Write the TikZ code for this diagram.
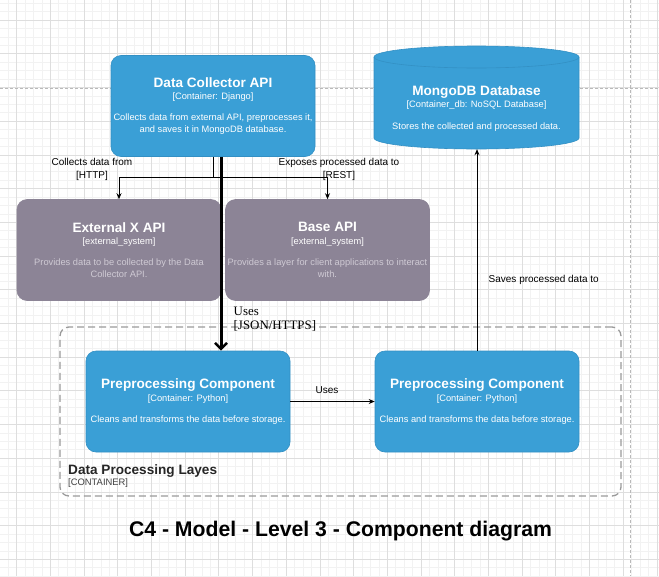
\documentclass[tikz,border=0pt]{standalone}
\usepackage{fontspec}
\setmainfont{Liberation Sans}
\newfontfamily\serifface{Liberation Serif}
\usetikzlibrary{arrows.meta}
\definecolor{c4blue}{HTML}{3A9FD6}
\definecolor{c4blueline}{HTML}{3390C4}
\definecolor{c4ext}{HTML}{8C8496}
\definecolor{c4extdesc}{HTML}{CFCAD4}
\definecolor{gridminor}{HTML}{F2F2F2}
\definecolor{gridmajor}{HTML}{DEDEDE}
\definecolor{bnd}{HTML}{9A9A9A}
\newcommand{\bttl}[1]{{\fontsize{13.6}{12.5}\selectfont\bfseries #1}}
\newcommand{\bsub}[1]{{\fontsize{9.3}{12.5}\selectfont #1}}
\tikzset{
  cbox/.style={rectangle, rounded corners=10pt, fill=c4blue, draw=c4blueline, line width=0.6pt,
    minimum width=204pt, minimum height=101pt, text=white, align=center, inner sep=0pt,
    font=\fontsize{9.3}{12.3}\selectfont},
  ebox/.style={cbox, fill=c4ext, draw=c4ext},
  thinarr/.style={draw=black, line width=0.9pt, -{Stealth[length=6pt,width=5pt]}},
  thickarr/.style={draw=black, line width=3pt, -{Straight Barb[length=6pt,width=12pt,line width=2.5pt]}},
  lbl/.style={font=\fontsize{10}{12.5}\selectfont, align=center, inner sep=0pt},
}
\begin{document}
\begin{tikzpicture}[x=1pt,y=-1pt]
\useasboundingbox (0,0) rectangle (659,576);
\fill[white] (0,0) rectangle (659,576);
% grid
\foreach \i in {-2,...,80} {
  \draw[gridminor, line width=0.5pt] ({16.5+\i*8.425},0) -- ({16.5+\i*8.425},576);
  \draw[gridminor, line width=0.5pt] (0,{20+\i*8.425}) -- (659,{20+\i*8.425});
}
\foreach \i in {-1,...,20} {
  \draw[gridmajor, line width=0.6pt] ({16.5+\i*33.7},0) -- ({16.5+\i*33.7},576);
  \draw[gridmajor, line width=0.6pt] (0,{20+\i*33.7}) -- (659,{20+\i*33.7});
}
\draw[gray!55, line width=0.5pt, dash pattern=on 3pt off 2pt] (0,88) -- (659,88);
\draw[gray!55, line width=0.5pt, dash pattern=on 3pt off 2pt] (630,0) -- (630,576);

% boundary
\node[draw=bnd, line width=1.3pt, dash pattern=on 7pt off 4pt, rounded corners=9pt,
  minimum width=561pt, minimum height=169pt, inner sep=0pt] (layer) at (340.5,411.5) {};
\node[anchor=base west, inner sep=0pt, font=\fontsize{13.6}{15}\selectfont\bfseries, text=black!85]
  (layername) at (68,474) {Data Processing Layes};
\node[anchor=base west, inner sep=0pt, font=\fontsize{9.4}{11}\selectfont, text=black!75]
  (layertype) at (68,485) {[CONTAINER]};

% boxes
\node[cbox] (dc) at (213,106)
  {\bttl{Data Collector API}\\\bsub{[Container: Django]}\\[8.5pt]Collects data from external API, preprocesses it,\\and saves it in MongoDB database.};
\node[ebox] (ext) at (119,250)
  {\bttl{External X API}\\\bsub{[external\_system]}\\[8.5pt]\textcolor{c4extdesc}{Provides data to be collected by the Data}\\\textcolor{c4extdesc}{Collector API.}};
\node[ebox] (base) at (327.5,250)
  {\bttl{Base API}\\\bsub{[external\_system]}\\[8.5pt]\textcolor{c4extdesc}{Provides a layer for client applications to interact}\\\textcolor{c4extdesc}{with.}};
\node[cbox] (pc1) at (188,401.5)
  {\bttl{Preprocessing Component}\\\bsub{[Container: Python]}\\[8.5pt]Cleans and transforms the data before storage.};
\node[cbox] (pc2) at (477,401.5)
  {\bttl{Preprocessing Component}\\\bsub{[Container: Python]}\\[8.5pt]Cleans and transforms the data before storage.};

% database cylinder
\node[inner sep=0pt, minimum width=205pt, minimum height=103pt] (db) at (476.5,97.5) {};
\path[fill=c4blue, draw=c4blueline, line width=0.6pt] (374,57) -- (374,138)
  arc[start angle=180, end angle=360, x radius=102.5pt, y radius=11pt] -- (579,57)
  arc[start angle=0, end angle=180, x radius=102.5pt, y radius=11pt] -- cycle;
\draw[c4blueline, line width=0.6pt] (374,57) arc[start angle=180, end angle=360, x radius=102.5pt, y radius=11pt];
\node[inner sep=0pt, text=white, align=center, font=\fontsize{9.3}{12.5}\selectfont] (dbtext) at (476.5,108.5)
  {\bttl{MongoDB Database}\\\bsub{[Container\_db: NoSQL Database]}\\[9pt]Stores the collected and processed data.};

% connectors
\draw[thinarr] (dc.south) -- ++(0,21) -| (ext.north);
\draw[thinarr] (dc.south) -- ++(0,21) -| (base.north);
\draw[thickarr] ([xshift=8pt]dc.south) -- ([xshift=8pt]dc.south |- pc1.north);
\draw[thinarr] (pc1.east) -- (pc2.west);
\draw[thinarr] (pc2.north) -- (pc2.north |- db.south);

% labels
\node[lbl] (l1) at (92,169.5) {Collects data from\\{}[HTTP]};
\node[lbl] (l2) at (339,169.5) {Exposes processed data to\\{}[REST]};
\node[lbl] (l3) at (327,390.5) {Uses};
\node[lbl, anchor=west] (l4) at (488.5,280) {Saves processed data to};
\node[anchor=north west, inner sep=0pt, align=left, font=\serifface\fontsize{12.9}{14}\selectfont]
  (l5) at (233.5,307) {Uses\\{}[JSON/HTTPS]};

% title
\node[inner sep=0pt, font=\fontsize{21.2}{24}\selectfont\bfseries] (title) at (340.5,531) {C4 - Model - Level 3 - Component diagram};
\end{tikzpicture}
\end{document}
